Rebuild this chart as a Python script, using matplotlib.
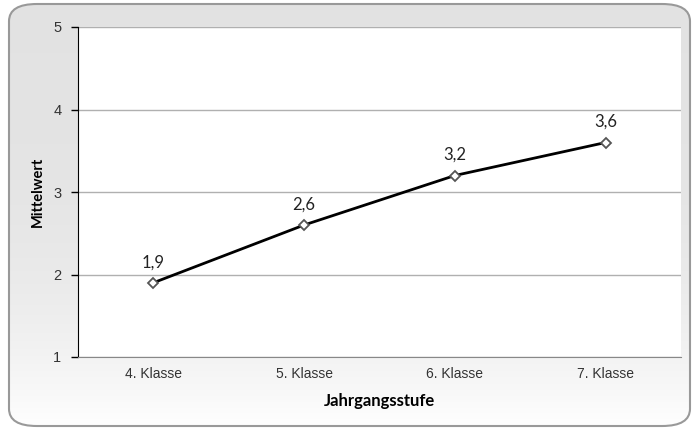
import numpy as np
import matplotlib
matplotlib.use("Agg")
import matplotlib.pyplot as plt
from matplotlib.patches import FancyBboxPatch

categories = ["4. Klasse", "5. Klasse", "6. Klasse", "7. Klasse"]
mittelwert = [1.9, 2.6, 3.2, 3.6]
y_ticks = [1, 2, 3, 4, 5]

W, H = 698, 430
fig = plt.figure(figsize=(W / 100, H / 100), dpi=100)

# rounded chart frame with a top-to-bottom gray->white gradient
frame = FancyBboxPatch((9 / W, 4 / H), 681 / W, 422 / H,
                       boxstyle="round,pad=0,rounding_size=0.04",
                       transform=fig.transFigure, facecolor="none",
                       edgecolor="#999999", linewidth=1.5, zorder=2)
bg = fig.add_axes([0, 0, 1, 1], zorder=-1)
bg.set_axis_off()
t = np.linspace(0, 1, 256) ** 3
grad = (0.89 + 0.11 * t).reshape(-1, 1)
img = bg.imshow(np.dstack([grad, grad, grad]), aspect="auto",
                extent=[0, 1, 0, 1], origin="upper", transform=fig.transFigure)
clip = FancyBboxPatch((9 / W, 4 / H), 681 / W, 422 / H,
                      boxstyle="round,pad=0,rounding_size=0.04",
                      transform=fig.transFigure, facecolor="none", edgecolor="none")
fig.add_artist(clip)
img.set_clip_path(clip)
fig.add_artist(frame)

ax = fig.add_axes([78 / W, 1 - 357 / H, 603 / W, 330 / H])
ax.set_facecolor("white")
x = np.arange(len(categories))
ax.plot(x, mittelwert, color="black", linewidth=2, marker="D", markersize=5,
        markerfacecolor="white", markeredgecolor="#555555", markeredgewidth=1.3,
        zorder=3)
for xi, v in zip(x, mittelwert):
    ax.annotate(f"{v:.1f}".replace(".", ","), (xi, v), xytext=(0, 9),
                textcoords="offset points", ha="center", va="bottom",
                fontsize=12, family="Lato", color="#222222")

ax.set_xlim(-0.5, len(categories) - 0.5)
ax.set_ylim(1, 5)
ax.set_yticks(y_ticks)
ax.set_xticks(x)
ax.set_xticklabels(categories, family="Liberation Sans", fontsize=10, color="#333333")
ax.set_yticklabels([str(t) for t in y_ticks], family="Liberation Sans",
                   fontsize=10.5, color="#333333")
ax.grid(axis="y", color="#b0b0b0", linewidth=1)
ax.set_axisbelow(True)
ax.tick_params(axis="x", length=0, pad=7)
ax.tick_params(axis="y", length=5, width=1, color="black", pad=7)

for side in ("top", "right"):
    ax.spines[side].set_visible(False)
ax.spines["left"].set_color("black")
ax.spines["bottom"].set_color("#888888")

ax.set_xlabel("Jahrgangsstufe", family="Lato", fontweight="bold", fontsize=12,
              labelpad=9)
ax.set_ylabel("Mittelwert", family="Lato", fontweight="bold", fontsize=10.5,
              labelpad=6)

fig.savefig("out.png", dpi=100)
